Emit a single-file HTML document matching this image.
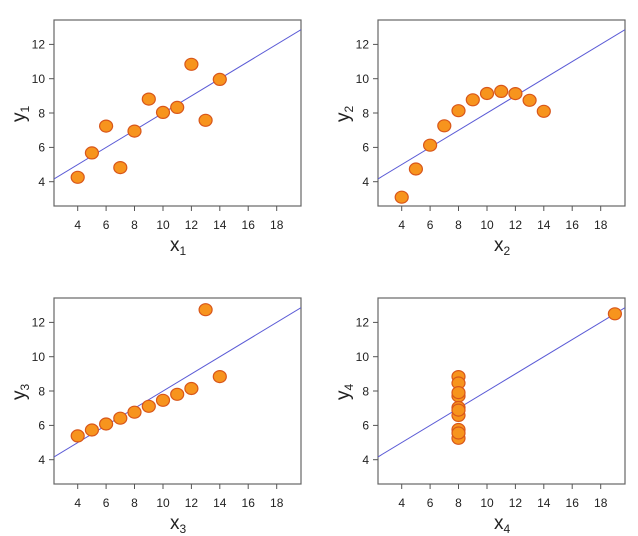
<!DOCTYPE html>
<html><head><meta charset="utf-8"><style>
body{margin:0;background:#fff}
svg{display:block}
text{font-family:"Liberation Sans",sans-serif;fill:#222}
.t{font-size:12px}
.l{font-size:19px}
.s{font-size:12px}
ellipse{fill:#f7941d;stroke:#d8561a;stroke-width:1.2}
</style></head><body>
<svg width="638" height="536" viewBox="0 0 638 536" xmlns="http://www.w3.org/2000/svg">
<defs>
<clipPath id="c"><rect x="54" y="20" width="247" height="186"/></clipPath>
<g id="ax">
<rect x="54" y="20" width="247" height="186" fill="none" stroke="#666" stroke-width="1.2"/>
<g stroke="#555" stroke-width="1">
<line x1="49" y1="181.7" x2="54" y2="181.7"/><line x1="49" y1="147.4" x2="54" y2="147.4"/><line x1="49" y1="113" x2="54" y2="113"/><line x1="49" y1="78.7" x2="54" y2="78.7"/><line x1="49" y1="44.4" x2="54" y2="44.4"/>
<line x1="77.7" y1="206" x2="77.7" y2="211"/><line x1="106.1" y1="206" x2="106.1" y2="211"/><line x1="134.5" y1="206" x2="134.5" y2="211"/><line x1="163" y1="206" x2="163" y2="211"/><line x1="191.4" y1="206" x2="191.4" y2="211"/><line x1="219.8" y1="206" x2="219.8" y2="211"/><line x1="248.2" y1="206" x2="248.2" y2="211"/><line x1="276.7" y1="206" x2="276.7" y2="211"/>
</g>
<g class="t" text-anchor="end">
<text x="45" y="186">4</text><text x="45" y="151.7">6</text><text x="45" y="117.3">8</text><text x="45" y="83">10</text><text x="45" y="48.7">12</text>
</g>
<g class="t" text-anchor="middle">
<text x="77.7" y="229">4</text><text x="106.1" y="229">6</text><text x="134.5" y="229">8</text><text x="163" y="229">10</text><text x="191.4" y="229">12</text><text x="219.8" y="229">14</text><text x="248.2" y="229">16</text><text x="276.7" y="229">18</text>
</g>
<line x1="54" y1="178.9" x2="301" y2="29.7" stroke="#5b5bd6" stroke-width="1" clip-path="url(#c)"/>
</g>
</defs>

<g>
<use href="#ax"/>
<text class="l" x="170" y="251">x<tspan class="s" dy="4">1</tspan></text>
<text class="l" transform="translate(25,122) rotate(-90)">y<tspan class="s" dy="4">1</tspan></text>
<ellipse cx="163" cy="112.4" rx="6.5" ry="6"/><ellipse cx="134.5" cy="131.1" rx="6.5" ry="6"/><ellipse cx="205.6" cy="120.3" rx="6.5" ry="6"/><ellipse cx="148.8" cy="99.1" rx="6.5" ry="6"/><ellipse cx="177.2" cy="107.4" rx="6.5" ry="6"/><ellipse cx="219.8" cy="79.4" rx="6.5" ry="6"/><ellipse cx="106.1" cy="126.1" rx="6.5" ry="6"/><ellipse cx="77.7" cy="177.3" rx="6.5" ry="6"/><ellipse cx="191.4" cy="64.3" rx="6.5" ry="6"/><ellipse cx="120.3" cy="167.6" rx="6.5" ry="6"/><ellipse cx="91.9" cy="152.9" rx="6.5" ry="6"/>
</g>

<g transform="translate(324,0)">
<use href="#ax"/>
<text class="l" x="170" y="251">x<tspan class="s" dy="4">2</tspan></text>
<text class="l" transform="translate(25,122) rotate(-90)">y<tspan class="s" dy="4">2</tspan></text>
<ellipse cx="163" cy="93.5" rx="6.5" ry="6"/><ellipse cx="134.5" cy="110.7" rx="6.5" ry="6"/><ellipse cx="205.6" cy="100.3" rx="6.5" ry="6"/><ellipse cx="148.8" cy="99.8" rx="6.5" ry="6"/><ellipse cx="177.2" cy="91.4" rx="6.5" ry="6"/><ellipse cx="219.8" cy="111.3" rx="6.5" ry="6"/><ellipse cx="106.1" cy="145.2" rx="6.5" ry="6"/><ellipse cx="77.7" cy="197.2" rx="6.5" ry="6"/><ellipse cx="191.4" cy="93.6" rx="6.5" ry="6"/><ellipse cx="120.3" cy="125.8" rx="6.5" ry="6"/><ellipse cx="91.9" cy="169" rx="6.5" ry="6"/>
</g>

<g transform="translate(0,278)">
<use href="#ax"/>
<text class="l" x="170" y="251">x<tspan class="s" dy="4">3</tspan></text>
<text class="l" transform="translate(25,122) rotate(-90)">y<tspan class="s" dy="4">3</tspan></text>
<ellipse cx="163" cy="122.3" rx="6.5" ry="6"/><ellipse cx="134.5" cy="134.2" rx="6.5" ry="6"/><ellipse cx="205.6" cy="31.7" rx="6.5" ry="6"/><ellipse cx="148.8" cy="128.3" rx="6.5" ry="6"/><ellipse cx="177.2" cy="116.3" rx="6.5" ry="6"/><ellipse cx="219.8" cy="98.6" rx="6.5" ry="6"/><ellipse cx="106.1" cy="146" rx="6.5" ry="6"/><ellipse cx="77.7" cy="157.9" rx="6.5" ry="6"/><ellipse cx="191.4" cy="110.5" rx="6.5" ry="6"/><ellipse cx="120.3" cy="140.2" rx="6.5" ry="6"/><ellipse cx="91.9" cy="152" rx="6.5" ry="6"/>
</g>

<g transform="translate(324,278)">
<use href="#ax"/>
<text class="l" x="170" y="251">x<tspan class="s" dy="4">4</tspan></text>
<text class="l" transform="translate(25,122) rotate(-90)">y<tspan class="s" dy="4">4</tspan></text>
<ellipse cx="134.5" cy="137.4" rx="6.5" ry="6"/><ellipse cx="134.5" cy="151.5" rx="6.5" ry="6"/><ellipse cx="134.5" cy="118" rx="6.5" ry="6"/><ellipse cx="134.5" cy="98.6" rx="6.5" ry="6"/><ellipse cx="134.5" cy="105" rx="6.5" ry="6"/><ellipse cx="134.5" cy="129.5" rx="6.5" ry="6"/><ellipse cx="134.5" cy="160.3" rx="6.5" ry="6"/><ellipse cx="290.9" cy="35.8" rx="6.5" ry="6"/><ellipse cx="134.5" cy="155" rx="6.5" ry="6"/><ellipse cx="134.5" cy="114.6" rx="6.5" ry="6"/><ellipse cx="134.5" cy="132.1" rx="6.5" ry="6"/>
</g>
</svg>
</body></html>
